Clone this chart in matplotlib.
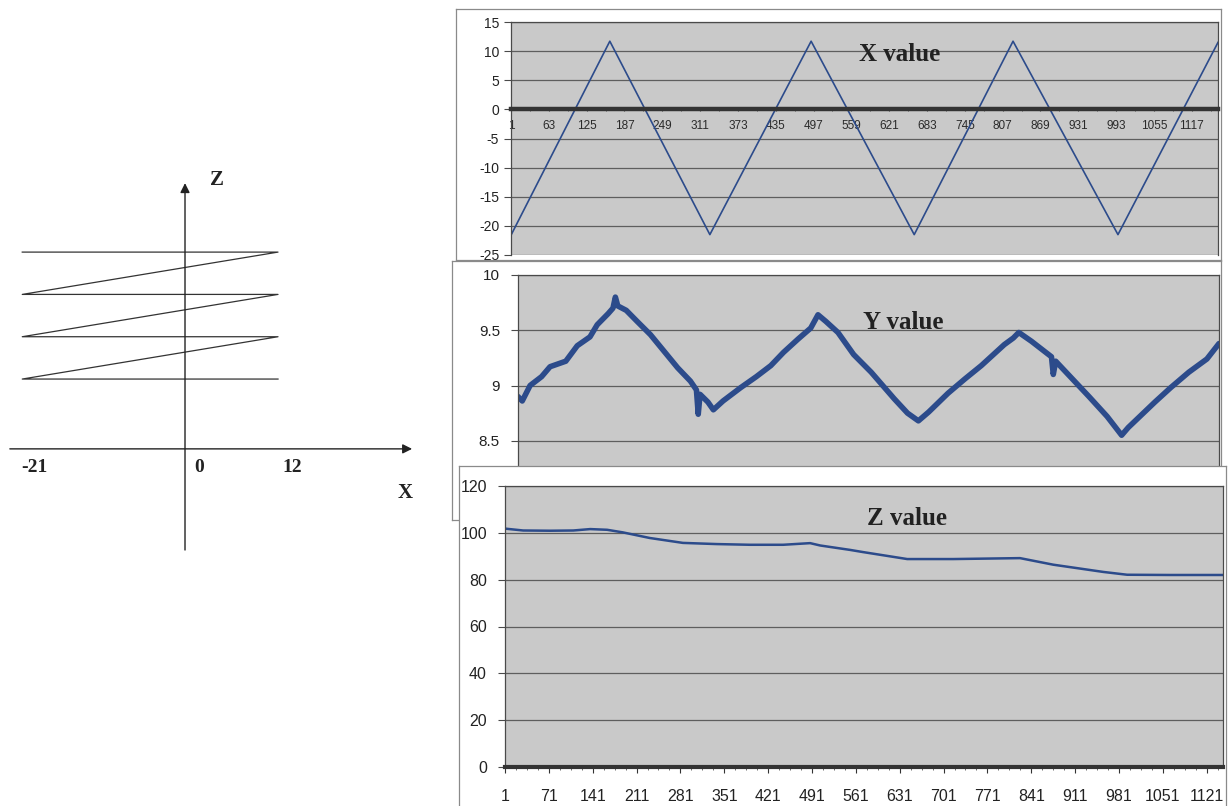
"""Recreate the X/Y/Z scan figure: a zig-zag schematic on the left and three
Excel-style line charts (X, Y and Z value per sample) on the right."""

import matplotlib.pyplot as plt
import numpy as np

# ---------------------------------------------------------------------------
# Data
# ---------------------------------------------------------------------------

# schematic: the scan path goes back and forth between x = -21 and x = 12
path_x = [12, -21, 12, -21, 12, -21, 12, -21]
path_z = [1, 1, 2, 2, 3, 3, 4, 4]
schematic_ticks = ['-21', '0', '12']
schematic_tick_x = [-21, 0, 12]

# X value: triangle wave turning points (sample index, value)
x_idx = [1, 163, 327, 493, 662, 824, 996, 1160]
x_val = [-21.6, 11.7, -21.5, 11.7, -21.5, 11.7, -21.5, 11.5]
x_cat_labels = [1, 63, 125, 187, 249, 311, 373, 435, 497, 559, 621, 683,
                745, 807, 869, 931, 993, 1055, 1117]
x_yticks = [-25, -20, -15, -10, -5, 0, 5, 10, 15]

# Y value: noisy triangle, trend points plus the visible spikes
y_idx = [1, 8, 21, 40, 54, 80, 99, 120, 132, 150, 158, 162, 166, 180, 198,
         220, 241, 265, 286, 296, 299, 302, 315, 324, 340, 369, 395, 419,
         440, 464, 485, 497, 510, 530, 556, 585, 623, 645, 663, 680, 712,
         740, 767, 805, 820, 829, 850, 883, 886, 890, 945, 975, 999, 1010,
         1054, 1080, 1110, 1140, 1160]
y_val = [8.90, 8.86, 9.00, 9.08, 9.17, 9.22, 9.36, 9.44, 9.55, 9.65, 9.70,
         9.80, 9.72, 9.68, 9.58, 9.46, 9.32, 9.16, 9.04, 8.96, 8.74, 8.92,
         8.85, 8.78, 8.86, 8.98, 9.08, 9.18, 9.30, 9.42, 9.52, 9.64, 9.58,
         9.48, 9.28, 9.12, 8.88, 8.75, 8.68, 8.76, 8.93, 9.06, 9.18, 9.37,
         9.43, 9.48, 9.40, 9.26, 9.10, 9.22, 8.90, 8.72, 8.55, 8.62, 8.85,
         8.98, 9.12, 9.24, 9.38]
y_yticks = [8.0, 8.5, 9.0, 9.5, 10.0]
y_ytick_labels = ['8', '8.5', '9', '9.5', '10']

# Z value: slowly falling, with plateaus
z_idx = [1, 30, 73, 110, 137, 164, 189, 232, 285, 339, 392, 445, 488,
         504, 552, 572, 643, 716, 823, 876, 956, 994, 1062, 1147]
z_val = [101.8, 101.0, 100.9, 101.0, 101.6, 101.3, 100.2, 97.8, 95.7,
         95.2, 94.9, 94.9, 95.6, 94.6, 92.7, 91.8, 88.8, 88.8, 89.2, 86.4,
         83.3, 82.1, 82.0, 82.0]
z_cat_labels = [1, 71, 141, 211, 281, 351, 421, 491, 561, 631, 701, 771,
                841, 911, 981, 1051, 1121]
z_yticks = [0, 20, 40, 60, 80, 100, 120]

# ---------------------------------------------------------------------------
# Style
# ---------------------------------------------------------------------------

W, H = 1228, 806
PLOT_BG = '#c9c9c9'
GRID = '#5e5e5e'
LINE = '#2c4b8b'
SANS = 'Liberation Sans'
SERIF = 'Liberation Serif'

plt.rcParams['axes.unicode_minus'] = False


def px_rect(left, top, right, bottom):
    """Pixel box (image coords) -> figure-fraction rect."""
    return [left / W, 1 - bottom / H, (right - left) / W, (bottom - top) / H]


def _frame(fig, box, z):
    ax = fig.add_axes(px_rect(*box), zorder=z)
    ax.set_xticks([])
    ax.set_yticks([])
    ax.set_facecolor('white')
    for s in ax.spines.values():
        s.set_color('#8a8a8a')
        s.set_linewidth(0.9)
    return ax


def _plot_area(fig, box, z):
    ax = fig.add_axes(px_rect(*box), zorder=z)
    ax.set_facecolor(PLOT_BG)
    for s in ax.spines.values():
        s.set_color('#4a4a4a')
        s.set_linewidth(0.9)
    ax.grid(axis='y', color=GRID, linewidth=0.9)
    ax.set_axisbelow(True)
    ax.tick_params(axis='y', direction='out', length=5, color='#4a4a4a',
                   labelsize=10, labelcolor='#222222')
    return ax


# ---------------------------------------------------------------------------
# Figure
# ---------------------------------------------------------------------------

fig = plt.figure(figsize=(W / 100, H / 100), dpi=100)

# ── Schematic ────────────────────────────────────────────────────────────────
sk = fig.add_axes(px_rect(0, 170, 430, 560))
sk.set_xlim(-23.87, 31.61)
sk.set_ylim(-3.276, 5.94)
sk.axis('off')
axis_z = -0.65
sk.plot(path_x, path_z, color='#333333', linewidth=0.9)
sk.annotate('', xy=(0, 5.63), xytext=(0, -3.04),
            arrowprops=dict(arrowstyle='-|>', color='#222222', lw=1.0,
                            mutation_scale=14, shrinkA=0, shrinkB=0))
sk.annotate('', xy=(29.3, axis_z), xytext=(-22.6, axis_z),
            arrowprops=dict(arrowstyle='-|>', color='#222222', lw=1.0,
                            mutation_scale=14, shrinkA=0, shrinkB=0))
offsets = [1.6, 1.8, 1.9]
for lab, xv, dx in zip(schematic_ticks, schematic_tick_x, offsets):
    sk.text(xv + dx, -1.08, lab, ha='center', va='center', family=SERIF,
            fontweight='bold', fontsize=14, color='#222222')
sk.text(28.4, -1.69, 'X', ha='center', va='center', family=SERIF,
        fontweight='bold', fontsize=15, color='#222222')
sk.text(4.1, 5.70, 'Z', ha='center', va='center', family=SERIF,
        fontweight='bold', fontsize=15, color='#222222')

# ── X value ──────────────────────────────────────────────────────────────────
_frame(fig, (456, 9, 1221, 260), 1)
ax1 = _plot_area(fig, (511, 22, 1218, 255), 2)
ax1.plot(x_idx, x_val, color=LINE, linewidth=1.2)
ax1.set_xlim(1, x_idx[-1])
ax1.set_ylim(-25, 15)
ax1.set_yticks(x_yticks)
ax1.set_yticklabels([str(v) for v in x_yticks], family=SANS, fontsize=10)
ax1.spines['bottom'].set_position(('data', 0))
ax1.spines['bottom'].set_linewidth(3.2)
ax1.spines['bottom'].set_color('#333333')
ax1.set_xticks(x_cat_labels)
ax1.set_xticklabels([str(v) for v in x_cat_labels], family=SANS,
                    fontsize=8.5, color='#2a2a2a')
ax1.set_xticks(np.arange(32, x_idx[-1], 62), minor=True)
ax1.tick_params(axis='x', which='both', direction='inout', length=3,
                color='#444444', pad=6)
ax1.text(0.55, 0.86, 'X value', transform=ax1.transAxes, ha='center',
         va='center', family=SERIF, fontweight='bold', fontsize=18,
         color='#222222')

# ── Y value ──────────────────────────────────────────────────────────────────
_frame(fig, (452, 261, 1221, 520), 3)
ax2 = _plot_area(fig, (518, 275, 1219, 496), 4)
ax2.plot(y_idx, y_val, color=LINE, linewidth=4.0, solid_joinstyle='round',
         solid_capstyle='round')
ax2.set_xlim(1, y_idx[-1])
ax2.set_ylim(8, 10)
ax2.set_yticks(y_yticks)
ax2.set_yticklabels(y_ytick_labels, family=SANS, fontsize=11)
ax2.tick_params(axis='y', pad=8)
ax2.set_xticks([])
ax2.text(0.55, 0.785, 'Y value', transform=ax2.transAxes, ha='center',
         va='center', family=SERIF, fontweight='bold', fontsize=18,
         color='#222222')

# ── Z value ──────────────────────────────────────────────────────────────────
_frame(fig, (459, 466, 1226, 812), 5)
ax3 = _plot_area(fig, (505, 486, 1223, 767), 6)
ax3.plot(z_idx, z_val, color=LINE, linewidth=1.8)
ax3.set_xlim(1, z_idx[-1])
ax3.set_ylim(0, 120)
ax3.set_yticks(z_yticks)
ax3.set_yticklabels([str(v) for v in z_yticks], family=SANS, fontsize=11.5)
ax3.tick_params(axis='y', pad=8)
ax3.spines['bottom'].set_linewidth(3.0)
ax3.spines['bottom'].set_color('#333333')
ax3.set_xticks(z_cat_labels)
ax3.set_xticklabels([str(v) for v in z_cat_labels], family=SANS,
                    fontsize=11.5, color='#222222')
ax3.set_xticks(np.arange(1, z_idx[-1], 17.5), minor=True)
ax3.tick_params(axis='x', which='major', direction='out', length=4,
                color='#333333', pad=12)
ax3.tick_params(axis='x', which='minor', direction='out', length=2.5,
                color='#555555', width=0.6)
ax3.text(0.56, 0.885, 'Z value', transform=ax3.transAxes, ha='center',
         va='center', family=SERIF, fontweight='bold', fontsize=18,
         color='#222222')

fig.savefig('out.png', dpi=100)
